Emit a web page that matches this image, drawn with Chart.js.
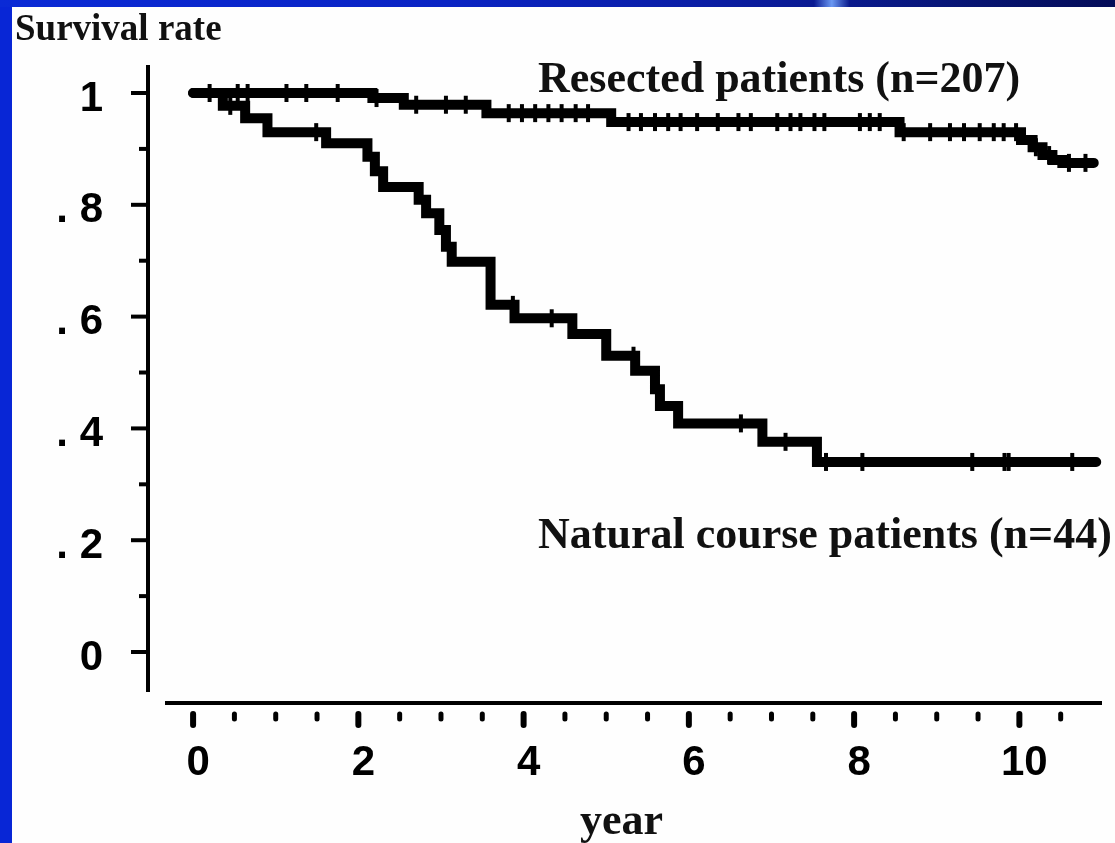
<!DOCTYPE html>
<html>
<head>
<meta charset="utf-8">
<title>Survival rate</title>
<script src="https://cdn.jsdelivr.net/npm/chart.js@4.4.1/dist/chart.umd.min.js"></script>
<style>
  html, body { margin: 0; padding: 0; }
  body { width: 1115px; height: 843px; overflow: hidden; position: relative; background: #fefefe; }
  #chart { position: absolute; left: 0; top: 0; }
  .frame-left { position: absolute; left: 0; top: 0; width: 12px; height: 843px; background: #0826d6; }
  .frame-top {
    position: absolute; left: 0; top: 0; width: 1115px; height: 7px;
    background: linear-gradient(90deg, #0a2ad6 0%, #0a24c4 40%, #0a1ea6 62%, #0a1a92 73%, #6a98f2 74.6%, #0a1a8c 76.2%, #071470 88%, #040c58 100%);
  }
  .note {
    position: absolute; font-family: "Liberation Serif", "Times New Roman", serif;
    font-weight: bold; line-height: 1; white-space: nowrap; color: #111;
  }
</style>
</head>
<body>
<canvas id="chart" width="1115" height="843"></canvas>
<div class="frame-left"></div>
<div class="frame-top"></div>
<div class="note" style="left:15px; top:9px; font-size:37px;">Survival rate</div>
<div class="note" style="left:538px; top:56px; font-size:44px;">Resected patients (n=207)</div>
<div class="note" style="left:538px; top:512px; font-size:44px;">Natural course patients (n=44)</div>
<div class="note" style="left:580px; top:798px; font-size:44px;">year</div>
<script>
// Kaplan-Meier curves: time in years, survival proportion after each drop
var resectedTime = [0, 2.17, 2.55, 3.55, 5.06, 8.55, 10.02, 10.16, 10.28, 10.40, 10.52, 10.90];
var resectedSurv = [1.0, 0.991, 0.979, 0.964, 0.948, 0.930, 0.916, 0.903, 0.889, 0.880, 0.875, 0.875];
var resectedCensor = [0.2, 0.54, 0.66, 1.13, 1.37, 1.75, 2.22, 2.7, 3.06, 3.3, 3.82, 3.98, 4.14, 4.3, 4.46,
  4.63, 4.78, 5.27, 5.42, 5.59, 5.75, 5.9, 6.1, 6.35, 6.6, 6.75, 7.07, 7.23, 7.35, 7.52, 7.64, 8.07,
  8.19, 8.31, 8.6, 8.92, 9.16, 9.33, 9.52, 9.69, 9.81, 9.96, 10.2, 10.36, 10.6, 10.8];

var naturalTime = [0, 0.36, 0.63, 0.90, 1.61, 2.11, 2.20, 2.30, 2.73, 2.82, 2.98, 3.06, 3.13, 3.60,
  3.89, 4.59, 5.00, 5.35, 5.59, 5.65, 5.87, 6.89, 7.55, 10.93];
var naturalSurv = [1.0, 0.977, 0.955, 0.930, 0.910, 0.886, 0.860, 0.832, 0.809, 0.785, 0.755, 0.725, 0.698, 0.621,
  0.597, 0.569, 0.530, 0.503, 0.470, 0.440, 0.409, 0.376, 0.340, 0.340];
var naturalCensor = [0.45, 1.49, 3.87, 4.34, 5.33, 6.63, 7.17, 7.66, 8.10, 9.43, 9.82, 9.87, 10.64];

// axis ticks
var xTickValues = [0, 2, 4, 6, 8, 10];
var xTickLabels = ['0', '2', '4', '6', '8', '10'];
var xMinorTicks = [0, 0.5, 1, 1.5, 2, 2.5, 3, 3.5, 4, 4.5, 5, 5.5, 6, 6.5, 7, 7.5, 8, 8.5, 9, 9.5, 10, 10.5];
var yTickValues = [0, 0.2, 0.4, 0.6, 0.8, 1];
var yTickLabels = ['0', '. 2', '. 4', '. 6', '. 8', '1'];
var yMinorTicks = [0, 0.1, 0.2, 0.3, 0.4, 0.5, 0.6, 0.7, 0.8, 0.9, 1];

function steps(times, survs) {
  return times.map(function(t, i) { return { x: t, y: survs[i] }; });
}

// value of the step curve at time t (censor marks sit on the curve)
function survAt(times, survs, t) {
  var v = survs[0];
  for (var i = 0; i < times.length; i++) {
    if (times[i] <= t) v = survs[i];
  }
  return v;
}

function marks(censor, times, survs) {
  return censor.map(function(t) { return { x: t, y: survAt(times, survs, t) }; });
}

// the original figure has free-standing axes: y axis left of the plot, x axis below it
var detachedAxes = {
  id: 'detachedAxes',
  beforeDatasetsDraw: function(chart) {
    var c = chart.ctx, a = chart.chartArea, xs = chart.scales.x, ys = chart.scales.y;
    c.save();
    c.strokeStyle = '#000';

    var ax = a.left - 17;
    c.lineWidth = 4;
    c.lineCap = 'butt';
    c.beginPath();
    c.moveTo(ax, a.top);
    c.lineTo(ax, a.bottom - 11);
    c.stroke();
    yMinorTicks.forEach(function(v) {
      var py = ys.getPixelForValue(v);
      var len = yTickValues.indexOf(v) >= 0 ? 17 : 9;
      c.beginPath();
      c.moveTo(ax - len, py);
      c.lineTo(ax, py);
      c.stroke();
    });

    c.lineWidth = 4;
    c.beginPath();
    c.moveTo(a.left, a.bottom);
    c.lineTo(a.right, a.bottom);
    c.stroke();

    c.lineCap = 'round';
    xMinorTicks.forEach(function(v) {
      var px = xs.getPixelForValue(v);
      var major = xTickValues.indexOf(v) >= 0;
      c.lineWidth = major ? 6 : 5;
      c.beginPath();
      c.moveTo(px, a.bottom + 11);
      c.lineTo(px, a.bottom + (major ? 22 : 16));
      c.stroke();
    });
    c.restore();
  }
};

var tickFont = { family: '"Liberation Sans", Arial, sans-serif', size: 42, weight: 'bold' };

var curveStyle = {
  showLine: true, stepped: 'before', borderColor: '#000', borderWidth: 10,
  borderCapStyle: 'round', borderJoinStyle: 'miter', pointRadius: 0, fill: false
};
var censorStyle = {
  pointStyle: 'line', pointRotation: 90, pointRadius: 9, pointBorderWidth: 4,
  pointBorderColor: '#000', pointBackgroundColor: '#000', showLine: false
};

new Chart(document.getElementById('chart'), {
  type: 'scatter',
  data: {
    datasets: [
      Object.assign({ label: 'Resected patients (n=207)', data: steps(resectedTime, resectedSurv) }, curveStyle),
      Object.assign({ label: 'Natural course patients (n=44)', data: steps(naturalTime, naturalSurv) }, curveStyle),
      Object.assign({ label: 'Resected censored', data: marks(resectedCensor, resectedTime, resectedSurv) }, censorStyle),
      Object.assign({ label: 'Natural censored', data: marks(naturalCensor, naturalTime, naturalSurv) }, censorStyle)
    ]
  },
  options: {
    responsive: false,
    animation: false,
    devicePixelRatio: 1,
    events: [],
    layout: { padding: { top: 65, right: 8, bottom: 0, left: 0 } },
    plugins: { legend: { display: false }, tooltip: { enabled: false } },
    scales: {
      x: {
        type: 'linear', min: -0.34, max: 11.0,
        grid: { display: false, drawTicks: false },
        border: { display: false },
        afterBuildTicks: function(s) { s.ticks = xTickValues.map(function(v) { return { value: v }; }); },
        afterFit: function(s) { s.height = 140; s.paddingLeft = 0; s.paddingRight = 0; },
        ticks: {
          font: tickFont, color: '#000', padding: 35, labelOffset: 5,
          autoSkip: false, maxRotation: 0,
          callback: function(v, i) { return xTickLabels[i]; }
        }
      },
      y: {
        type: 'linear', min: -0.0912, max: 1.0501,
        grid: { display: false, drawTicks: false },
        border: { display: false },
        afterBuildTicks: function(s) { s.ticks = yTickValues.map(function(v) { return { value: v }; }); },
        afterFit: function(s) { s.width = 165; s.paddingTop = 0; s.paddingBottom = 0; },
        ticks: {
          font: tickFont, color: '#000', padding: 62, labelOffset: 6,
          callback: function(v, i) { return yTickLabels[i]; }
        }
      }
    }
  },
  plugins: [detachedAxes]
});
</script>
</body>
</html>
